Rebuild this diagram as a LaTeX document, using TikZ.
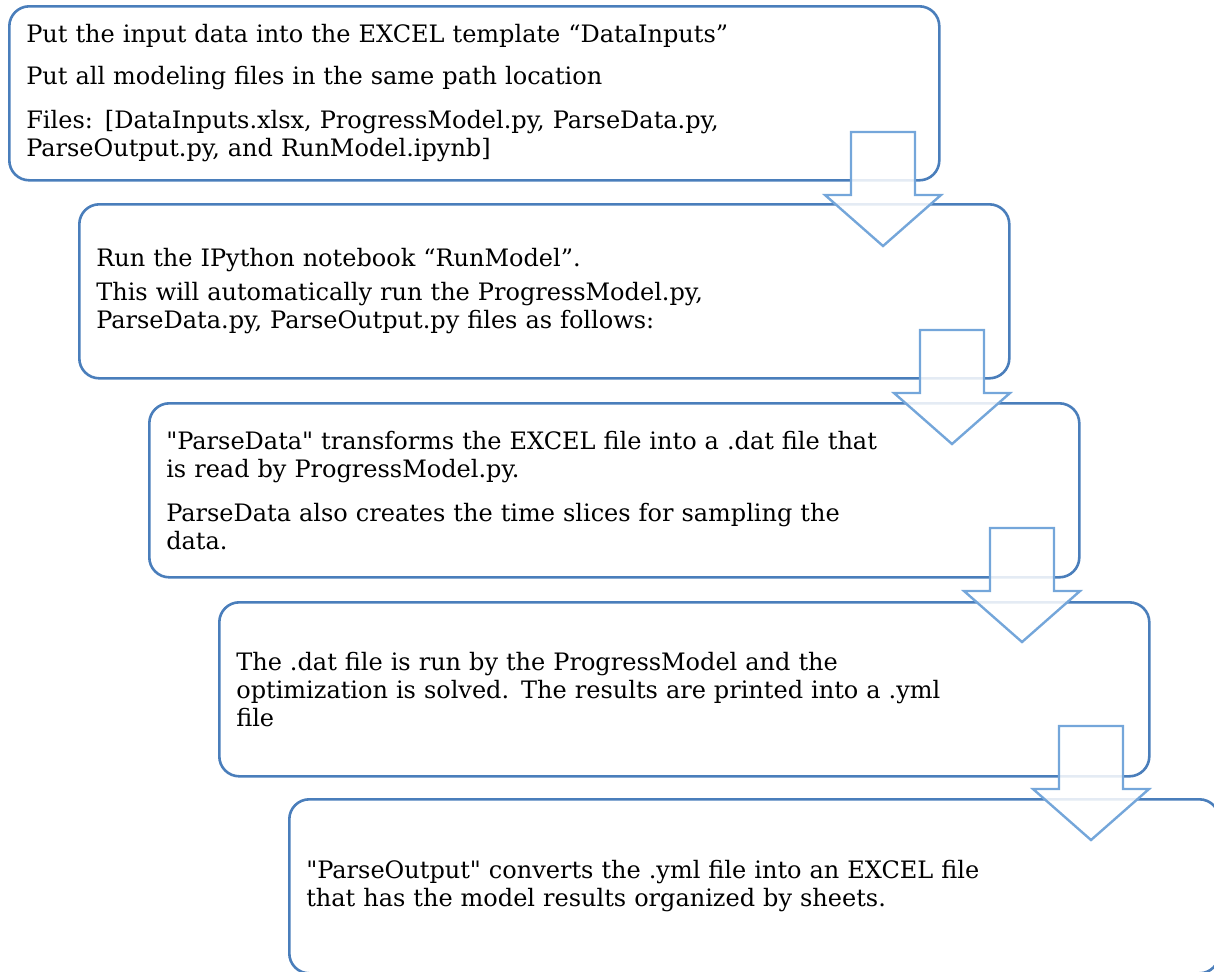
\documentclass[tikz,border=0pt]{standalone}
\usepackage{fontspec}
\setmainfont{DejaVu Serif}
\usepackage{tikz}
\usepackage{xcolor}

\definecolor{boxblue}{HTML}{4A7EBB}
\definecolor{arrowblue}{HTML}{74A6DA}

\tikzset{
  stepbox/.style = {draw = boxblue, line width = 1.3pt, rounded corners = 10pt,
    anchor = north west, minimum height = 87pt, text width = 448pt,
    inner xsep = 8.5pt, align = left, font = \fontsize{12}{14}\selectfont},
  arrowline/.style = {draw = arrowblue, line width = 1.2pt, fill = white,
    fill opacity = 0.85},
  pics/downarrow/.style = {code = {
    \draw[arrowline] (-32,0) -- (32,0) -- (32,63) -- (58,63) -- (0,114)
      -- (-58,63) -- (-32,63) -- cycle;
  }}
}

\begin{document}
\begin{tikzpicture}[x = 0.5pt, y = -0.5pt]
\useasboundingbox (0,0) rectangle (1214,971);

\node[stepbox] (inputs) at (8,5) {Put the input data into the EXCEL template “DataInputs”\\[7pt]
    Put all modeling files in the same path location\\[8pt]
    Files: [DataInputs.xlsx, ProgressModel.py, ParseData.py,\\
    ParseOutput.py, and RunModel.ipynb]};
\node[stepbox] (notebook) at (78,203) {Run the IPython notebook “RunModel”.\\[3pt]
    This will automatically run the ProgressModel.py,\\
    ParseData.py, ParseOutput.py files as follows:};
\node[stepbox] (parsedata) at (148,402) {\textquotedbl ParseData\textquotedbl{} transforms the EXCEL file into a .dat file that\\
    is read by ProgressModel.py.\\[8pt]
    ParseData also creates the time slices for sampling the\\
    data.};
\node[stepbox] (solve) at (218,601) {The .dat file is run by the ProgressModel and the\\
    optimization is solved. The results are printed into a .yml\\
    file};
\node[stepbox] (parseoutput) at (288,798) {\textquotedbl ParseOutput\textquotedbl{} converts the .yml file into an EXCEL file\\
    that has the model results organized by sheets.};

% block arrows go on top so the box edges show through
\pic at (883,132) {downarrow};
\pic at (952,330) {downarrow};
\pic at (1022,528) {downarrow};
\pic at (1091,726) {downarrow};
% \draw[dashed] (inputs) -- (notebook);

\end{tikzpicture}
\end{document}
